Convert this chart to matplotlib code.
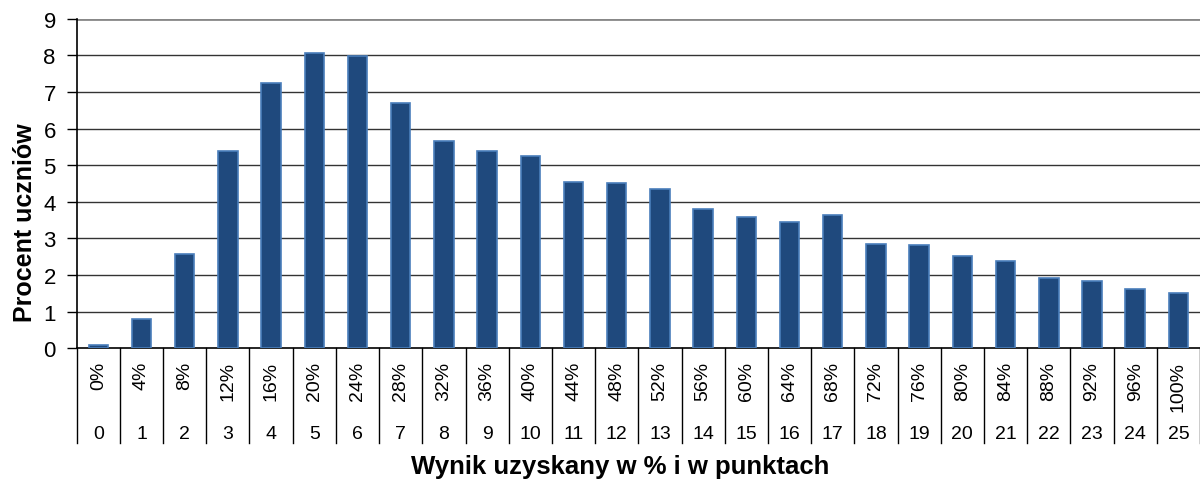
import numpy as np
import matplotlib.pyplot as plt
from matplotlib.transforms import blended_transform_factory

plt.rcParams['font.family'] = ['Liberation Sans', 'DejaVu Sans']

# punkty, procent uczniów
points = list(range(26))
percent_labels = [f"{p * 4}%" for p in points]
values = [0.10, 0.80, 2.57, 5.39, 7.24, 8.06, 7.99, 6.69, 5.67, 5.40,
          5.26, 4.53, 4.52, 4.36, 3.81, 3.59, 3.45, 3.63, 2.86, 2.83,
          2.53, 2.38, 1.93, 1.85, 1.62, 1.52]

fig = plt.figure(figsize=(12, 4.81), dpi=100)
ax = fig.add_axes([0.0639, 0.2738, 0.9361, 0.6852])

x = np.arange(len(points))
ax.bar(x, values, width=0.45, color='#1F497D', edgecolor='#4A7EBB', linewidth=1.2, zorder=3)

ax.set_xlim(-0.5, len(points) - 0.5)
ax.set_ylim(0, 9)
ax.set_yticks(range(10))
ax.tick_params(axis='y', labelsize=16, length=7, width=1, direction='out', pad=8)
ax.set_xticks([])

# linie siatki
for yv in range(1, 10):
    if yv == 9:
        ax.axhline(yv, color='#888888', linewidth=2, zorder=1)
    else:
        ax.axhline(yv, color='#333333', linewidth=1, zorder=1)

for s in ['top', 'right']:
    ax.spines[s].set_visible(False)
ax.spines['left'].set_color('black')
ax.spines['bottom'].set_color('black')
ax.spines['left'].set_linewidth(1.2)
ax.spines['bottom'].set_linewidth(1.2)

# tabelka pod osią X
trans = blended_transform_factory(ax.transData, ax.transAxes)
for b in np.arange(-0.5, len(points), 1.0):
    ax.plot([b, b], [0, -0.287], color='black', linewidth=1, transform=trans, clip_on=False)
for i in x:
    ax.text(i, -0.038, percent_labels[i], rotation=90, ha='center', va='top',
            fontsize=14, transform=trans)
    ax.text(i, -0.257, str(points[i]), ha='center', va='center',
            fontsize=14, transform=trans)

fig.text(25 / 1200, 0.537, 'Procent uczniów', rotation=90, ha='center', va='center',
         fontsize=18, fontweight='bold')
fig.text(620 / 1200, 1 - 467 / 481, 'Wynik uzyskany w % i w punktach', ha='center',
         va='center', fontsize=18.5, fontweight='bold')

fig.savefig('out.png', dpi=100)
